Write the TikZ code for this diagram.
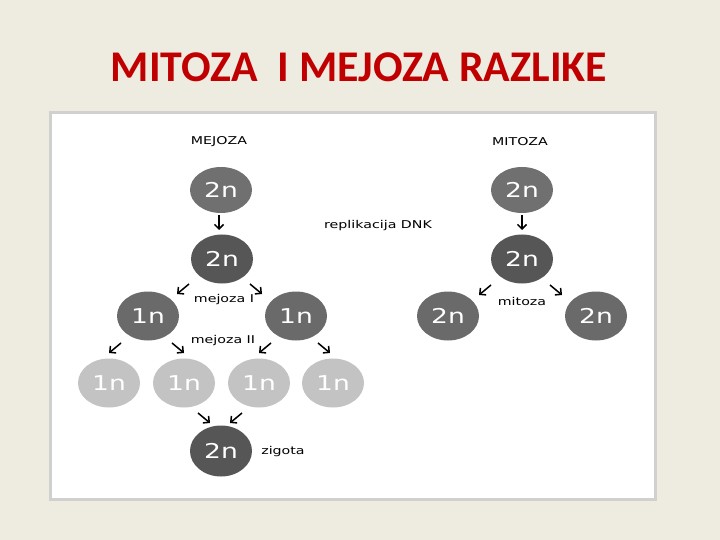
\documentclass[tikz,border=0pt]{standalone}
\usepackage{fontspec}
\usepackage{graphicx}
\usetikzlibrary{arrows.meta,calc,shapes.geometric}
\newfontfamily\titlefont{Carlito}
\newfontfamily\labfont{DejaVu Sans}
\definecolor{bgc}{RGB}{238,236,225}
\definecolor{framec}{RGB}{208,208,206}
\definecolor{titlec}{RGB}{192,0,0}
\definecolor{gA}{RGB}{112,112,112}
\definecolor{gB}{RGB}{86,86,86}
\definecolor{gC}{RGB}{106,106,106}
\definecolor{gD}{RGB}{195,195,195}
\newcommand{\hs}[1]{\scalebox{1.3}[1]{#1}}
\newcommand{\hl}[1]{\scalebox{1.32}[1]{#1}}
\tikzset{
  cell/.style={ellipse, minimum width=62bp, minimum height=49bp, inner sep=0pt,
    text=white, font=\labfont\fontsize{20.5}{22}\selectfont},
  lab/.style={inner sep=0pt, text=black, font=\labfont\fontsize{10.8}{12}\selectfont},
  arr/.style={line width=1.5bp, -{Straight Barb[length=4.5bp,width=9bp]}},
}
\begin{document}
\begin{tikzpicture}[x=1bp,y=-1bp]
\fill[bgc] (0,0) rectangle (720,540);
\useasboundingbox (0,0) rectangle (720,540);
\node[text=titlec, font=\titlefont\bfseries\fontsize{44}{48}\selectfont, inner sep=0pt] (title) at (359,67) {MITOZA\ \ I MEJOZA RAZLIKE};
\draw[framec, line width=3bp, fill=white] (50,113) rectangle (655,499);
% left column
\node[lab] (tmej) at (219,142) {\hl{MEJOZA}};
\node[cell, fill=gA, minimum height=46bp] (m1) at (221,190) {\hs{2n}};
\node[cell, fill=gB] (m2) at (222,259) {\hs{2n}};
\node[cell, fill=gC] (a1) at (148,316) {\hs{1n}};
\node[cell, fill=gC] (a2) at (296,316) {\hs{1n}};
\node[cell, fill=gD] (b1) at (109,383) {\hs{1n}};
\node[cell, fill=gD] (b2) at (184,383) {\hs{1n}};
\node[cell, fill=gD] (b3) at (259,383) {\hs{1n}};
\node[cell, fill=gD] (b4) at (333,383) {\hs{1n}};
\node[cell, fill=gB, minimum height=51bp] (z) at (221,451) {\hs{2n}};
\node[lab] (tmejI) at (224,300) {\hl{mejoza I}};
\node[lab] (tmejII) at (223,341) {\hl{mejoza II}};
\node[lab] (tzig) at (283,452) {\hl{zigota}};
\node[lab] (trep) at (378,226) {\hl{replikacija DNK}};
% right column
\node[lab] (tmit) at (520,142) {\hl{MITOZA}};
\node[cell, fill=gA, minimum height=46bp] (r1) at (522,190) {\hs{2n}};
\node[cell, fill=gB] (r2) at (522,259) {\hs{2n}};
\node[cell, fill=gC] (r3) at (448,316) {\hs{2n}};
\node[cell, fill=gC] (r4) at (596,316) {\hs{2n}};
\node[lab] (tmit2) at (522,301) {\hl{mitoza}};
% arrows
\draw[arr] ($(m1)+(-2,25)$) -- ++(0,15);
\draw[arr] ($(r1)+(0,25)$) -- ++(0,15);
\draw[arr] ($(m2)+(-33,25)$) -- ++(-12,10);
\draw[arr] ($(m2)+(28,25)$) -- ++(12,10);
\draw[arr] ($(r2)+(-31,26)$) -- ++(-12,10);
\draw[arr] ($(r2)+(28,26)$) -- ++(12,10);
\draw[arr] ($(a1)+(-27,27)$) -- ++(-12,10);
\draw[arr] ($(a1)+(24,27)$) -- ++(12,10);
\draw[arr] ($(a2)+(-25,27)$) -- ++(-12,10);
\draw[arr] ($(a2)+(22,27)$) -- ++(12,10);
\draw[arr] ($(z)+(-23,-38)$) -- ++(12,10);
\draw[arr] ($(z)+(21,-38)$) -- ++(-12,10);
\end{tikzpicture}
\end{document}
